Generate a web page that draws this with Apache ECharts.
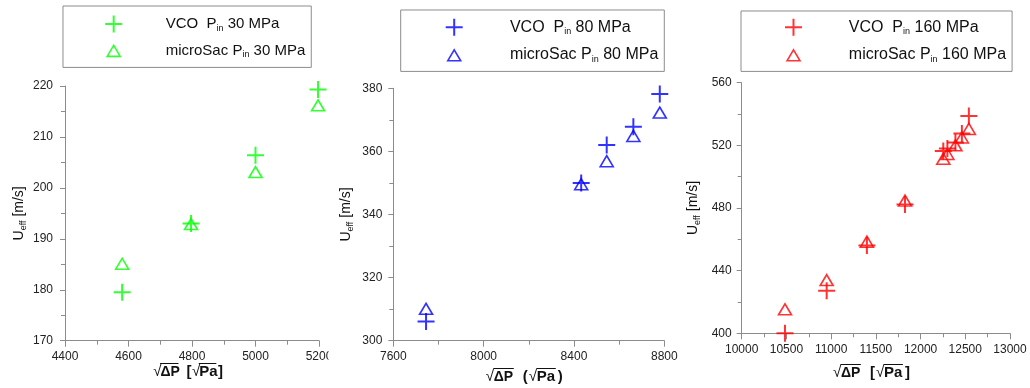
<!DOCTYPE html>
<html><head><meta charset="utf-8">
<script src="https://cdn.jsdelivr.net/npm/echarts@6/dist/echarts.min.js"></script>
<style>html,body{margin:0;padding:0;background:#fff}#c{width:1030px;height:388px}</style>
</head><body><div id="c"></div>
<script>
// ---- data ----
const p1X   = [4580, 4797, 5000, 5197];
const p1VCO = [179.5, 193.0, 206.4, 219.3];
const p1Mic = [185.1, 192.9, 203.1, 216.2];

const p2X   = [7745, 8432, 8545, 8663, 8780];
const p2VCO = [306.1, 350.0, 362.0, 367.8, 378.2];
const p2Mic = [310.1, 349.6, 356.9, 364.9, 372.3];

const p3X   = [10484, 10950, 11400, 11826, 12254, 12300, 12390, 12462, 12540];
const p3VCO = [400.0, 427.2, 456.0, 482.3, 516.4, 518.0, 521.8, 527.5, 538.8];
const p3Mic = [415.3, 434.0, 458.5, 484.7, 511.5, 514.5, 520.0, 525.0, 530.5];

const pressures = ['30', '80', '160'];
const xRanges = [[4400, 5200, 200], [7600, 8800, 400], [10000, 13000, 500]];
const yRanges = [[170, 220, 10], [300, 380, 20], [400, 560, 40]];
const xUnitBrackets = [['[', ']'], ['(', ')'], ['[', ']']];

// ---- styles / layout ----
const colors = ['#00ff00', '#0000ff', '#ff0000'];
const FONT = '"Liberation Sans", Arial, sans-serif';
const grids = [
  {left: 65, top: 86, width: 254, height: 254.7},
  {left: 393.3, top: 88.3, width: 271, height: 252.4},
  {left: 741.7, top: 82.7, width: 268.3, height: 250.6}
];
const legendPos = [
  {left: 63, top: 6, padding: [8.5, 6, 7.7, 41.2], itemGap: 7.6, fs: 15, gap: 38.5},
  {left: 400.7, top: 10, padding: [7.8, 6, 7.3, 44], itemGap: 8.7, fs: 16, gap: 42.2},
  {left: 741, top: 11, padding: [6.8, 6, 7.3, 43], itemGap: 8.7, fs: 16, gap: 41.8}
];
const yNameGap = [37, 38, 40];
const yLabelMargin = [12, 11, 10];

const PLUS = 'path://M0,8.5L17,8.5M8.5,0L8.5,17';
const TRI_ICON = 'path://M0,0M17,17M2,14.5L8.5,3.5L15,14.5Z';
const NONE = 'rgba(0,0,0,0)';

const panels = [[p1X, p1VCO, p1Mic], [p2X, p2VCO, p2Mic], [p3X, p3VCO, p3Mic]];
const zip = (xs, ys) => xs.map((x, i) => [x, ys[i]]);

const labelText = {};
const series = [], legends = [], xAxes = [], yAxes = [];

panels.forEach(([xs, vco, mic], i) => {
  const p = pressures[i], col = colors[i];
  const nV = 'VCO ' + p, nM = 'microSac ' + p;
  labelText[nV] = '{g| }{t|VCO  P}{s|in}{t| ' + p + ' MPa}';
  labelText[nM] = '{g| }{t|microSac P}{s|in}{t| ' + p + ' MPa}';
  series.push({
    type: 'scatter', name: nV, xAxisIndex: i, yAxisIndex: i,
    data: zip(xs, vco), symbol: PLUS, symbolSize: 17,
    itemStyle: {color: NONE, borderColor: col, borderWidth: 2},
    emphasis: {disabled: true}, silent: true, z: 3
  });
  series.push({
    type: 'scatter', name: nM, xAxisIndex: i, yAxisIndex: i,
    data: zip(xs, mic), symbol: 'triangle', symbolSize: [13, 11],
    itemStyle: {color: NONE, borderColor: col, borderWidth: 1.6},
    emphasis: {disabled: true}, silent: true, z: 2
  });
  const lp = legendPos[i];
  legends.push({
    orient: 'vertical', left: lp.left, top: lp.top, padding: lp.padding,
    itemGap: lp.itemGap, itemWidth: 17, itemHeight: 17,
    borderColor: '#8c8c8c', borderWidth: 1, selectedMode: false,
    data: [
      {name: nV, icon: PLUS, itemStyle: {color: NONE, borderColor: col, borderWidth: 2}},
      {name: nM, icon: TRI_ICON, itemStyle: {color: NONE, borderColor: col, borderWidth: 1.6}}
    ],
    formatter: n => labelText[n],
    textStyle: {
      fontFamily: FONT, color: '#111',
      rich: {
        g: {width: lp.gap, fontSize: lp.fs, lineHeight: 18},
        t: {fontSize: lp.fs, lineHeight: 18, fontFamily: FONT, color: '#111'},
        s: {fontSize: 9, lineHeight: 8, verticalAlign: 'bottom', fontFamily: FONT, color: '#111'}
      }
    }
  });
  const xr = xRanges[i], yr = yRanges[i];
  xAxes.push({
    type: 'value', gridIndex: i, min: xr[0], max: xr[1], interval: xr[2],
    axisLine: {show: true, onZero: false, lineStyle: {color: '#8c8c8c', width: 1}},
    axisTick: {show: true, inside: false, length: 6, lineStyle: {color: '#8c8c8c'}},
    minorTick: {show: true, splitNumber: 2, length: 4, lineStyle: {color: '#8c8c8c'}},
    splitLine: {show: false},
    axisLabel: {margin: 10, fontFamily: FONT, fontSize: 12, color: '#222',
      showMinLabel: true, showMaxLabel: true, formatter: v => String(v)}
  });
  yAxes.push({
    type: 'value', gridIndex: i, min: yr[0], max: yr[1], interval: yr[2],
    axisLine: {show: true, onZero: false, lineStyle: {color: '#8c8c8c', width: 1}},
    axisTick: {show: true, inside: false, length: 5, lineStyle: {color: '#8c8c8c'}},
    minorTick: {show: true, splitNumber: 2, length: 4, lineStyle: {color: '#8c8c8c'}},
    splitLine: {show: false},
    axisLabel: {margin: yLabelMargin[i], fontFamily: FONT, fontSize: 12, color: '#222', formatter: v => String(v)},
    name: '{u|U}{s|eff}{u| [m/s]}', nameLocation: 'middle', nameRotate: 90, nameGap: yNameGap[i],
    nameTextStyle: {
      fontFamily: FONT, color: '#111',
      rich: {
        u: {fontSize: 14, lineHeight: 18, fontFamily: FONT, color: '#111'},
        s: {fontSize: 9, lineHeight: 8, verticalAlign: 'bottom', fontFamily: FONT, color: '#111'}
      }
    }
  });
});

// x-axis titles (sqrt(ΔP) [sqrt(Pa)]) built from text pieces plus overline bars
function xTitle(cx, y, br, s) {
  const els = [];
  const t = (dx, text, font) => els.push({
    type: 'text', x: cx + dx * s, y: y, z: 50, silent: true,
    style: {text: text, font: font, fill: '#111', align: 'left', verticalAlign: 'middle'}
  });
  const bar = (x1, x2, yy) => els.push({
    type: 'line', z: 50, silent: true,
    shape: {x1: cx + x1 * s, y1: yy, x2: cx + x2 * s, y2: yy},
    style: {stroke: '#111', lineWidth: 1}
  });
  t(-43, '√', 'normal 15px ' + FONT);
  t(-35, 'ΔP', 'bold 14px ' + FONT);
  t(-6, br[0], 'bold 15px ' + FONT);
  t(0, '√', 'normal 15px ' + FONT);
  t(8, 'Pa', 'bold 15px ' + FONT);
  t(29, br[1], 'bold 15px ' + FONT);
  bar(-35.5, -15, y - 8.5);
  bar(7.5, 27, y - 8.5);
  return els;
}

const graphic = [].concat(
  xTitle(192, 372, xUnitBrackets[0], 0.9),
  xTitle(528.8, 377, xUnitBrackets[1], 1),
  xTitle(875.9, 373, xUnitBrackets[2], 1),
  [{type: 'rect', z: 100, silent: true, shape: {x: 328.5, y: 346, width: 11, height: 22}, style: {fill: '#fff'}}]
);

const chart = echarts.init(document.getElementById('c'), null, {renderer: 'canvas'});
chart.setOption({
  animation: false,
  backgroundColor: '#fff',
  textStyle: {fontFamily: FONT},
  grid: grids.map(g => Object.assign({containLabel: false, outerBoundsMode: 'none'}, g)),
  xAxis: xAxes,
  yAxis: yAxes,
  legend: legends,
  series: series,
  graphic: graphic
});
</script>
</body></html>
